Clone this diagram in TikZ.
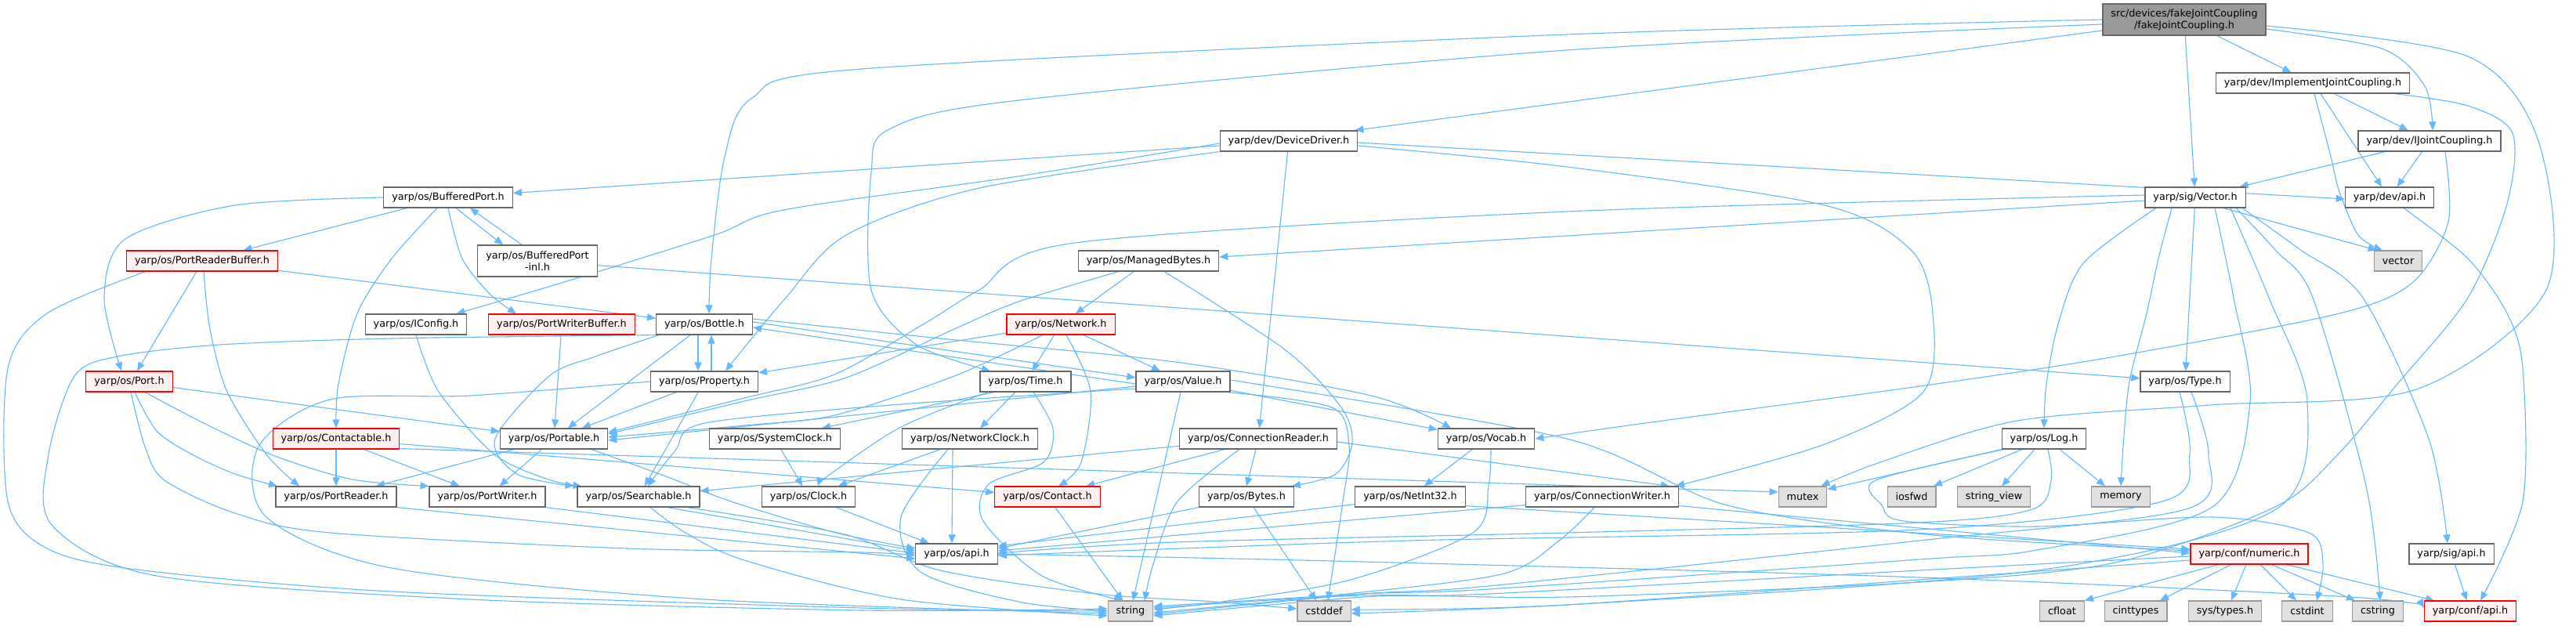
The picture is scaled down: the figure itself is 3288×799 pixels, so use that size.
\documentclass[tikz,border=0pt]{standalone}
\usepackage{fontspec}
\setmainfont{DejaVu Sans}
\usetikzlibrary{arrows.meta}
\definecolor{edgec}{HTML}{63B8FF}
\definecolor{redfill}{HTML}{FFF0F0}
\newcommand\dgfont{\fontsize{12.75}{15}\selectfont}
\pgfdeclarelayer{bgl}
\pgfdeclarelayer{edl}
\pgfsetlayers{bgl,edl,main}
\tikzset{
  nd/.style={draw=black!60, fill=white, line width=1.2pt, inner xsep=10.5pt, inner ysep=0pt, minimum height=26pt, font=\dgfont, text=black},
  sy/.style={nd, draw=black!40, fill=black!12},
  rd/.style={nd, draw=red, fill=redfill, line width=1.1pt},
  tp/.style={nd, fill=black!40, align=center, minimum height=40pt},
  tw/.style={nd, align=center, minimum height=40pt},
  ed/.style={draw=edgec, line width=1.1pt, -{Triangle[length=11pt,width=9pt]}},
}
\begin{document}
\begin{tikzpicture}[x=1pt,y=-1pt]
\useasboundingbox (0,0) rectangle (3288,799);
\begin{pgfonlayer}{bgl}
\fill[white] (0,0) rectangle (3288,799);
\end{pgfonlayer}
% nodes
\node[tp] (top) at (2788,25) {src/devices/fakeJointCoupling\\/fakeJointCoupling.h};
\node[nd] (impl) at (2952,106) {yarp/dev/ImplementJointCoupling.h};
\node[nd] (dd) at (1645,180) {yarp/dev/DeviceDriver.h};
\node[nd] (ijc) at (3101,180) {yarp/dev/IJointCoupling.h};
\node[nd] (bp) at (572,252) {yarp/os/BufferedPort.h};
\node[nd] (vec) at (2802,252) {yarp/sig/Vector.h};
\node[nd] (devapi) at (3050,252) {yarp/dev/api.h};
\node[rd] (prb) at (258,333) {yarp/os/PortReaderBuffer.h};
\node[tw] (bpinl) at (686,333) {yarp/os/BufferedPort\\-inl.h};
\node[nd] (mb) at (1466,333) {yarp/os/ManagedBytes.h};
\node[sy] (vector) at (3061,333) {vector};
\node[nd] (iconfig) at (531,414) {yarp/os/IConfig.h};
\node[rd] (pwb) at (717,414) {yarp/os/PortWriterBuffer.h};
\node[nd] (bottle) at (899,414) {yarp/os/Bottle.h};
\node[rd] (network) at (1354,414) {yarp/os/Network.h};
\node[rd] (port) at (165,487) {yarp/os/Port.h};
\node[nd] (property) at (899,487) {yarp/os/Property.h};
\node[nd] (time) at (1309,487) {yarp/os/Time.h};
\node[nd] (value) at (1510,487) {yarp/os/Value.h};
\node[nd] (type) at (2789,487) {yarp/os/Type.h};
\node[rd] (contactable) at (429,560) {yarp/os/Contactable.h};
\node[nd] (portable) at (707,560) {yarp/os/Portable.h};
\node[nd] (sysclock) at (989,560) {yarp/os/SystemClock.h};
\node[nd] (netclock) at (1238,560) {yarp/os/NetworkClock.h};
\node[nd] (connreader) at (1606,560) {yarp/os/ConnectionReader.h};
\node[nd] (vocab) at (1897,560) {yarp/os/Vocab.h};
\node[nd] (log) at (2609,560) {yarp/os/Log.h};
\node[nd] (portreader) at (429,634) {yarp/os/PortReader.h};
\node[nd] (portwriter) at (622,634) {yarp/os/PortWriter.h};
\node[nd] (searchable) at (815,634) {yarp/os/Searchable.h};
\node[nd] (clock) at (1032,634) {yarp/os/Clock.h};
\node[rd] (contact) at (1337,634) {yarp/os/Contact.h};
\node[nd] (bytes) at (1591,634) {yarp/os/Bytes.h};
\node[nd] (netint) at (1800,634) {yarp/os/NetInt32.h};
\node[nd] (connwriter) at (2045,634) {yarp/os/ConnectionWriter.h};
\node[sy] (mutex) at (2301,634) {mutex};
\node[sy] (iosfwd) at (2440,634) {iosfwd};
\node[sy] (stringview) at (2545,634) {string\_view};
\node[sy] (memory) at (2707,634) {memory};
\node[nd] (osapi) at (1221,707) {yarp/os/api.h};
\node[rd] (numeric) at (2871,707) {yarp/conf/numeric.h};
\node[nd] (sigapi) at (3129,707) {yarp/sig/api.h};
\node[sy] (string) at (1443,780) {string};
\node[sy] (cstddef) at (1690,780) {cstddef};
\node[sy] (cfloat) at (2632,780) {cfloat};
\node[sy] (cinttypes) at (2726,780) {cinttypes};
\node[sy] (systypes) at (2840,780) {sys/types.h};
\node[sy] (cstdint) at (2945,780) {cstdint};
\node[sy] (cstring) at (3035,780) {cstring};
\node[rd] (confapi) at (3153,780) {yarp/conf/api.h};
% edges
\begin{pgfonlayer}{edl}
% top
\draw[ed] plot[smooth,tension=.5] coordinates {(top.west) (2000,44) (1100,88) (960,125) (925,200) (908,330) ([xshift=6pt]bottle.north)};
\draw[ed] plot[smooth,tension=.5] coordinates {([yshift=-6pt]top.west) (2000,64) (1300,128) (1135,165) (1112,220) (1112,370) (1170,440) ([xshift=-45pt]time.north)};
\draw[ed] ([yshift=-14pt]top.west) -- ([xshift=-4pt]dd.north east);
\draw[ed] (top) -- (vec);
\draw[ed] (top) -- (impl);
\draw[ed] plot[smooth,tension=.5] coordinates {([yshift=-12pt]top.east) (3040,62) (3095,110) ([xshift=4pt]ijc.north)};
\draw[ed] plot[smooth,tension=.5] coordinates {([yshift=-8pt]top.east) (3150,72) (3240,180) (3250,370) (3084,497) (2821,517) (2575,537) (2400,590) ([xshift=-8pt]mutex.north east)};
% impl
\draw[ed] (impl) -- (ijc);
\draw[ed] ([xshift=10pt]impl.south) -- ([xshift=-10pt]devapi.north);
\draw[ed] plot[smooth,tension=.5] coordinates {([xshift=2pt]impl.south) (2975,200) (2986,245) (3010,300) ([xshift=-20pt]vector.north)};
\draw[ed] plot[smooth,tension=.5] coordinates {([xshift=-20pt]impl.south east) (3150,135) (3207,170) (3200,260) (3150,380) (3060,490) (2984,580) (2904,647) (2700,718) (2450,743) (2000,762) (1740,760) ([yshift=4pt]string.east)};
% ijc
\draw[ed] (ijc) -- (vec);
\draw[ed] (ijc) -- (devapi);
\draw[ed] plot[smooth,tension=.5] coordinates {([xshift=20pt]ijc.south) (3125,283) (3080,360) (2986,400) (2700,455) (2450,493) (2100,540) (vocab.east)};
% dd
\draw[ed] (dd) -- (bp);
\draw[ed] plot[smooth,tension=.5] coordinates {([yshift=-3pt]dd.west) (1300,225) (1000,268) (912,300) (720,360) ([xshift=-14pt]iconfig.north east)};
\draw[ed] plot[smooth,tension=.5] coordinates {(dd.south west) (1250,240) (1080,300) (1003,380) ([xshift=27pt]property.north)};
\draw[ed] (dd) -- (connreader);
\draw[ed] ([yshift=-2pt]dd.east) -- ([yshift=-2pt]devapi.west);
\draw[ed] plot[smooth,tension=.5] coordinates {([yshift=-6pt]dd.east) (2000,213) (2329,262) (2440,320) (2467,400) (2455,500) (2329,567) ([xshift=-4pt]connwriter.north east)};
% bp
\draw[ed] (bp) -- (prb);
\draw[ed] ([xshift=10pt]bp.south) -- ([xshift=-44pt]bpinl.north);
\draw[ed] ([xshift=-20pt]bpinl.north) -- ([xshift=28pt]bp.south);
\draw[ed] plot[smooth,tension=.5] coordinates {(bp.west) (300,262) (160,305) (133,380) ([xshift=-10pt]port.north)};
\draw[ed] plot[smooth,tension=.5] coordinates {([xshift=-14pt]bp.south) (500,330) (456,400) (432,490) (contactable.north)};
\draw[ed] plot[smooth,tension=.5] coordinates {(bp.south) (590,330) (625,375) ([xshift=-58pt]pwb.north)};
\draw[ed] (bpinl) -- (type);
% prb
\draw[ed] (prb) -- (bottle);
\draw[ed] ([xshift=-7pt]prb.south) -- ([xshift=10pt]port.north);
\draw[ed] plot[smooth,tension=.5] coordinates {([xshift=2pt]prb.south) (268,420) (290,500) (340,580) ([xshift=-47pt]portreader.north)};
\draw[ed] plot[smooth,tension=.5] coordinates {([xshift=-72pt]prb.south) (60,400) (10,470) (10,640) (60,700) (175,727) (500,755) (1100,776) (string.west)};
% iconfig, pwb
\draw[ed] plot[smooth,tension=.5] coordinates {(iconfig.south) (560,500) (631,580) (700,612) ([xshift=6pt]searchable.north west)};
\draw[ed] (pwb) -- (portable);
% bottle
\draw[ed] (bottle) -- (portable);
\draw[ed] ([xshift=-8pt]bottle.south) -- ([xshift=-8pt]property.north);
\draw[ed] ([xshift=9pt]property.north) -- ([xshift=9pt]bottle.south);
\draw[ed] plot[smooth,tension=.5] coordinates {([xshift=4pt]bottle.south west) (760,455) (701,480) (632,560) (660,605) ([xshift=-4pt]searchable.north west)};
\draw[ed] ([yshift=3pt]bottle.east) -- ([yshift=5pt]value.west);
\draw[ed] ([yshift=-3pt]value.west) -- ([yshift=-4pt]bottle.east);
\draw[ed] plot[smooth,tension=.5] coordinates {([yshift=7pt]bottle.east) (1200,432) (1500,462) (1750,505) ([xshift=-45pt]vocab.north)};
\draw[ed] plot[smooth,tension=.5] coordinates {(bottle.south west) (500,432) (281,440) (150,455) (95,480) (62,580) (66,670) (200,735) (600,765) (1100,779) ([yshift=3pt]string.west)};
% property
\draw[ed] (property) -- (portable);
\draw[ed] (property) -- (searchable);
\draw[ed] plot[smooth,tension=.5] coordinates {(property.west) (600,505) (421,510) (330,570) (340,660) (500,725) (900,765) ([yshift=-3pt]string.west)};
% network
\draw[ed] (network) -- (property);
\draw[ed] (network) -- (time);
\draw[ed] (network) -- (value);
\draw[ed] plot[smooth,tension=.5] coordinates {([xshift=7pt]network.south) (1392,500) (1380,590) ([xshift=14pt]contact.north)};
\draw[ed] plot[smooth,tension=.5] coordinates {([xshift=-23pt]network.south) (1218,480) (1065,530) (950,543) ([yshift=2pt]portable.east)};
% mb
\draw[ed] (mb) -- (network);
\draw[ed] plot[smooth,tension=.5] coordinates {([xshift=-38pt]mb.south) (1300,385) (1218,420) (1080,482) (950,512) ([yshift=6pt]portable.east)};
\draw[ed] plot[smooth,tension=.5] coordinates {([xshift=20pt]mb.south) (1641,447) (1712,520) (1726,565) (1705,605) ([xshift=-3pt]bytes.north east)};
% value
\draw[ed] (value) -- (vocab);
\draw[ed] (value) -- (string);
\draw[ed] plot[smooth,tension=.5] coordinates {([xshift=-4pt]value.south east) (1700,520) (1722,570) (1714,640) ([xshift=5pt]cstddef.north)};
\draw[ed] plot[smooth,tension=.5] coordinates {([yshift=2pt]value.east) (2000,560) (2205,645) (2468,683) ([yshift=4pt]numeric.west)};
\draw[ed] ([yshift=-6pt]value.west) -- ([yshift=-2pt]portable.east);
\draw[ed] plot[smooth,tension=.5] coordinates {([yshift=-9pt]value.west) (1150,516) (900,540) (862,575) ([xshift=12pt]searchable.north)};
% time
\draw[ed] ([xshift=-40pt]time.south) -- ([xshift=60pt]sysclock.north);
\draw[ed] (time) -- (netclock);
\draw[ed] plot[smooth,tension=.5] coordinates {([xshift=-48pt]time.south) (1150,545) (1060,605) ([xshift=12pt]clock.north)};
\draw[ed] plot[smooth,tension=.5] coordinates {([xshift=10pt]time.south) (1344,547) (1332,590) (1262,618) (1255,665) (1330,735) ([xshift=-10pt]string.north)};
% clocks
\draw[ed] (netclock) -- (clock);
\draw[ed] ([xshift=-22pt]netclock.south) -- ([xshift=-6pt]osapi.north);
\draw[ed] plot[smooth,tension=.5] coordinates {([xshift=-28pt]netclock.south) (1150,660) (1175,730) (1300,768) (string.west)};
\draw[ed] (sysclock) -- (clock);
\draw[ed] (clock) -- (osapi);
% contactable
\draw[ed] (contactable) -- (portreader);
\draw[ed] (contactable) -- (portwriter);
\draw[ed] (contactable) -- (contact);
\draw[ed] ([yshift=1pt]contactable.south east) -- ([yshift=6pt]mutex.west);
% port
\draw[ed] (port) -- (portable);
\draw[ed] plot[smooth,tension=.5] coordinates {([xshift=7pt]port.south) (200,550) (245,580) (300,605) ([xshift=-75pt]portreader.north)};
\draw[ed] plot[smooth,tension=.5] coordinates {([xshift=20pt]port.south) (260,540) (351,582) (450,612) (portwriter.north west)};
\draw[ed] plot[smooth,tension=.5] coordinates {([xshift=2pt]port.south) (185,570) (210,613) (300,655) (421,680) (800,700) (1100,705) ([yshift=-2pt]osapi.west)};
% portable
\draw[ed] (portable) -- (portreader);
\draw[ed] (portable) -- (portwriter);
\draw[ed] plot[smooth,tension=.5] coordinates {([xshift=48pt]portable.south) (850,608) (933,640) (1067,680) ([yshift=7pt]osapi.west)};
% reader/writer/searchable
\draw[ed] (portreader.south east) -- ([yshift=-6pt]osapi.west);
\draw[ed] (portwriter.south east) -- ([yshift=1pt]osapi.west);
\draw[ed] ([xshift=37pt]searchable.south) -- ([yshift=4pt]osapi.west);
\draw[ed] plot[smooth,tension=.5] coordinates {([xshift=62pt]searchable.south) (1078,682) (1200,728) (1400,758) (1550,768) ([yshift=3pt]cstddef.west)};
\draw[ed] plot[smooth,tension=.5] coordinates {([xshift=15pt]searchable.south) (875,680) (950,715) (1150,765) ([yshift=-6pt]string.west)};
% connreader
\draw[ed] (connreader) -- (searchable);
\draw[ed] ([xshift=-43pt]connreader.south) -- ([xshift=49pt]contact.north);
\draw[ed] ([xshift=-3pt]connreader.south) -- (bytes.north);
\draw[ed] plot[smooth,tension=.5] coordinates {([xshift=-24pt]connreader.south) (1503,640) (1472,720) ([xshift=18pt]string.north)};
\draw[ed] ([yshift=-4pt]connreader.east) -- ([xshift=-12pt]connwriter.north east);
% vocab, netint, connwriter
\draw[ed] (vocab) -- (netint);
\draw[ed] plot[smooth,tension=.5] coordinates {([xshift=6pt]vocab.south) (1900,620) (1880,680) (1724,740) (1560,768) ([yshift=2pt]string.east)};
\draw[ed] ([yshift=4pt]netint.south west) -- ([yshift=10pt]osapi.east);
\draw[ed] ([yshift=2pt]netint.south east) -- ([yshift=6pt]numeric.west);
\draw[ed] ([yshift=3pt]connwriter.south west) -- ([yshift=4pt]osapi.east);
\draw[ed] plot[smooth,tension=.5] coordinates {([xshift=-10pt]connwriter.south) (1990,690) (1916,733) (1700,760) ([yshift=-2pt]string.east)};
\draw[ed] ([yshift=2pt]connwriter.south east) -- ([yshift=1pt]numeric.west);
% contact, bytes
\draw[ed] (contact) -- (string);
\draw[ed] (bytes.south west) -- ([yshift=7pt]osapi.east);
\draw[ed] ([xshift=9pt]bytes.south) -- ([xshift=-10pt]cstddef.north);
% log
\draw[ed] (log.south west) -- ([yshift=-4pt]mutex.north east);
\draw[ed] ([xshift=-28pt]log.south) -- ([xshift=28pt]iosfwd.north);
\draw[ed] ([xshift=-12pt]log.south) -- ([xshift=10pt]stringview.north);
\draw[ed] ([xshift=20pt]log.south) -- ([xshift=-20pt]memory.north);
\draw[ed] plot[smooth,tension=.5] coordinates {([xshift=3pt]log.south west) (2394,613) (2402,645) (2430,665) (2600,672) (2824,660) (2947,680) (2965,720) ([xshift=12pt]cstdint.north)};
\draw[ed] plot[smooth,tension=.5] coordinates {([xshift=5pt]log.south) (2618,613) (2594,650) (2450,667) (2000,680) (1500,692) ([yshift=1pt]osapi.east)};
% type
\draw[ed] plot[smooth,tension=.5] coordinates {([xshift=-7pt]type.south) (2795,580) (2760,640) (2450,676) (1800,690) ([yshift=-2pt]osapi.east)};
\draw[ed] plot[smooth,tension=.5] coordinates {([xshift=8pt]type.south) (2819,580) (2790,650) (2450,690) (1900,748) (1740,758) ([yshift=-4pt]string.east)};
% vec
\draw[ed] ([yshift=-4pt]vec.west) -- ([yshift=5pt]mb.east);
\draw[ed] plot[smooth,tension=.5] coordinates {([yshift=3pt]vec.west) (2000,270) (1372,310) (1250,370) (1180,413) (1065,478) (950,508) ([yshift=8pt]portable.east)};
\draw[ed] (vec) -- (type);
\draw[ed] plot[smooth,tension=.5] coordinates {([xshift=-50pt]vec.south) (2660,335) (2628,410) (2612,490) (log.north)};
\draw[ed] plot[smooth,tension=.5] coordinates {([xshift=-30pt]vec.south) (2755,330) (2740,400) (2718,487) (2710,570) (memory.north)};
\draw[ed] ([xshift=36pt]vec.south) -- ([xshift=4pt]vector.north west);
\draw[ed] plot[smooth,tension=.5] coordinates {([xshift=52pt]vec.south) (2905,320) (2952,380) (3020,620) ([xshift=3pt]cstring.north)};
\draw[ed] plot[smooth,tension=.5] coordinates {([xshift=60pt]vec.south) (2935,318) (3016,380) (3100,560) ([xshift=-5pt]sigapi.north)};
\draw[ed] plot[smooth,tension=.5] coordinates {([xshift=25pt]vec.south) (2851,380) (2872,513) (2824,647) (2600,702) (2450,714) (1900,752) (1740,758) ([yshift=6pt]string.east)};
\draw[ed] plot[smooth,tension=.5] coordinates {([xshift=45pt]vec.south) (2896,380) (2945,513) (2905,650) (2600,728) (2000,772) ([yshift=2pt]cstddef.east)};
% numeric
\draw[ed] ([xshift=-39pt]numeric.south) -- (cfloat.north east);
\draw[ed] ([xshift=-23pt]numeric.south) -- ([xshift=31pt]cinttypes.north);
\draw[ed] ([xshift=-4pt]numeric.south) -- ([xshift=8pt]systypes.north);
\draw[ed] ([xshift=14pt]numeric.south) -- ([xshift=-14pt]cstdint.north);
\draw[ed] ([xshift=28pt]numeric.south) -- ([xshift=-29pt]cstring.north);
\draw[ed] ([xshift=47pt]numeric.south) -- ([xshift=-46pt]confapi.north);
\draw[ed] plot[smooth,tension=.5] coordinates {([yshift=-3pt]numeric.west) (2450,728) (1900,758) (1740,762) ([yshift=-6pt]string.east)};
\draw[ed] plot[smooth,tension=.5] coordinates {([yshift=-8pt]numeric.west) (2450,740) (2000,772) ([yshift=-3pt]cstddef.east)};
% apis
\draw[ed] (sigapi) -- (confapi);
\draw[ed] plot[smooth,tension=.5] coordinates {([xshift=18pt]devapi.south) (3150,330) (3200,400) (3220,470) (3220,640) ([xshift=13pt]confapi.north)};
\draw[ed] plot[smooth,tension=.5] coordinates {(osapi.east) (1700,716) (2450,737) (3000,762) ([yshift=4pt]confapi.west)};
\end{pgfonlayer}
\end{tikzpicture}
\end{document}
